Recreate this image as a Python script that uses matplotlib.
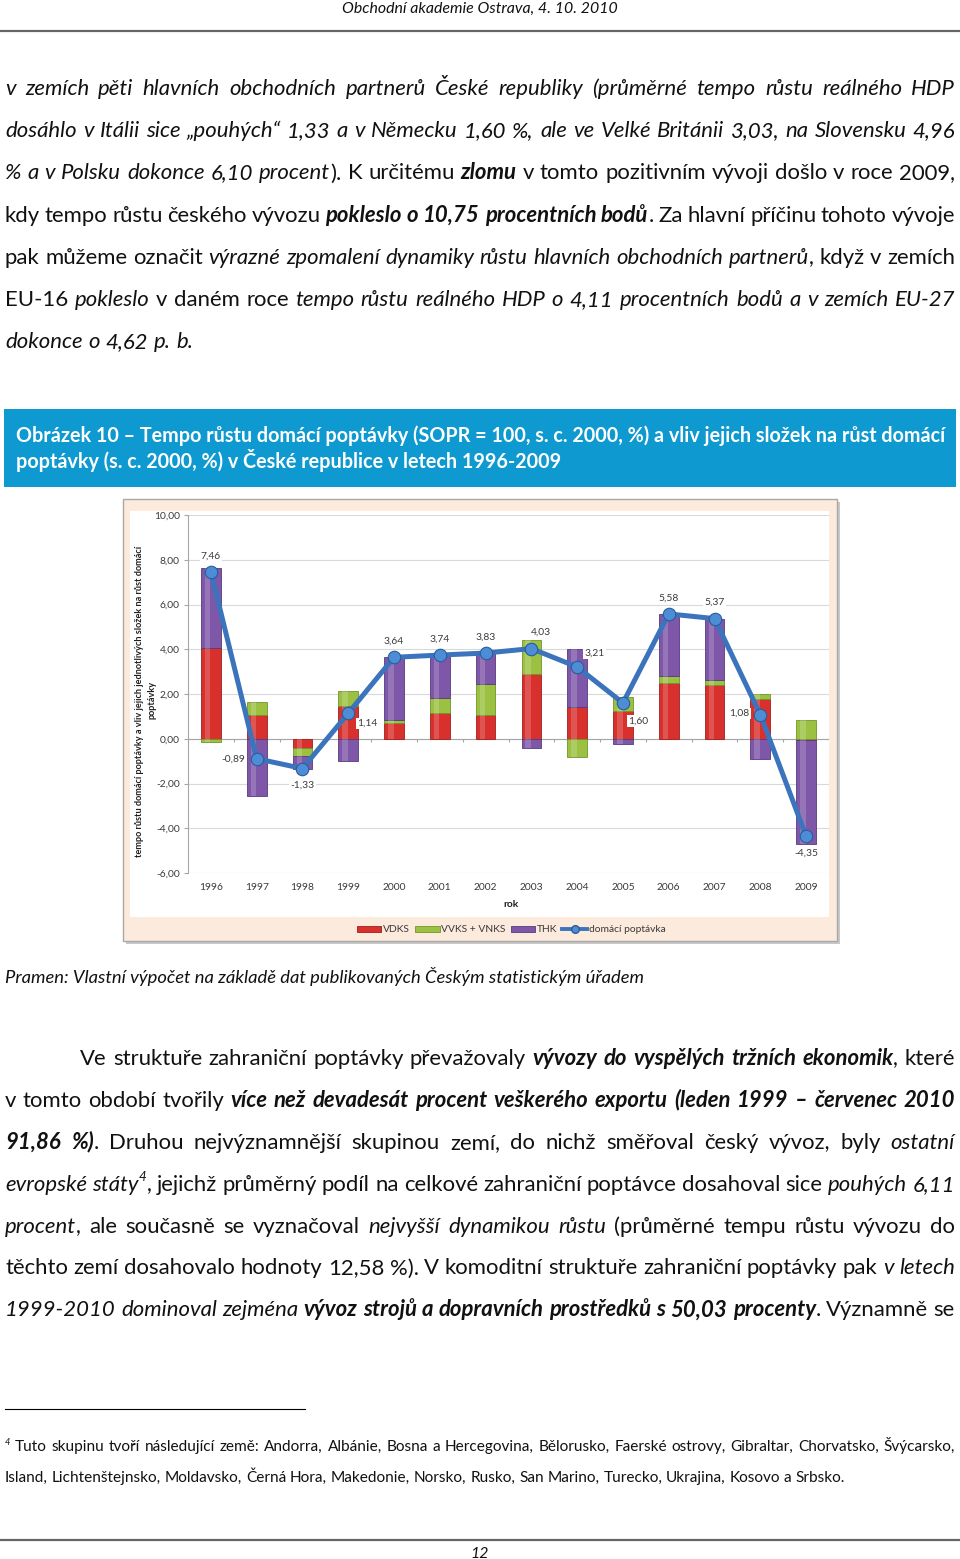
import numpy as np
import matplotlib
matplotlib.use('Agg')
import matplotlib.pyplot as plt
from matplotlib.patches import Rectangle, Patch
from matplotlib.lines import Line2D
from matplotlib.ticker import FuncFormatter, MultipleLocator

plt.rcParams['font.family'] = ['Lato', 'DejaVu Sans']

W, H = 960, 1559

# ---- chart data ----
years = ['1996', '1997', '1998', '1999', '2000', '2001', '2002',
         '2003', '2004', '2005', '2006', '2007', '2008', '2009']
vdks = [4.04, 1.06, -0.40, 1.45, 0.70, 1.14, 1.06, 2.90, 1.43, 1.25, 2.50, 2.40, 1.78, -0.06]
vvks = [-0.15, 0.60, -0.35, 0.70, 0.12, 0.70, 1.37, 1.53, -0.80, 0.60, 0.30, 0.22, 0.20, 0.84]
thk = [3.57, -2.55, -0.58, -1.01, 2.82, 1.90, 1.40, -0.40, 2.58, -0.25, 2.78, 2.75, -0.90, -4.64]
domestic = [7.46, -0.89, -1.33, 1.14, 3.64, 3.74, 3.83, 4.03, 3.21, 1.60, 5.58, 5.37, 1.08, -4.35]
series_names = ['VDKS', 'VVKS + VNKS', 'THK']
line_name = 'domácí poptávka'
y_title = ['tempo růstu domácí poptávky a vliv jejich jednotlivých složek na růst domácí',
           'poptávky']
x_title = 'rok'

# ---- page text ----
header = 'Obchodní akademie Ostrava, 4. 10. 2010'
para1 = [
    [('v zemích pěti hlavních obchodních partnerů České republiky (průměrné tempo růstu reálného HDP', 'i')],
    [('dosáhlo v Itálii sice „pouhých“ 1,33 a v Německu 1,60 %, ale ve Velké Británii 3,03, na Slovensku 4,96', 'i')],
    [('% a v Polsku dokonce 6,10 procent', 'i'), ('). K určitému ', 'n'), ('zlomu', 'bi'),
     (' v tomto pozitivním vývoji došlo v roce 2009,', 'n')],
    [('kdy tempo růstu českého vývozu ', 'n'), ('pokleslo o 10,75 procentních bodů', 'bi'),
     ('. Za hlavní příčinu tohoto vývoje', 'n')],
    [('pak můžeme označit ', 'n'), ('výrazné zpomalení dynamiky růstu hlavních obchodních partnerů', 'i'),
     (', když v zemích', 'n')],
    [('EU-16 ', 'n'), ('pokleslo', 'i'), (' v daném roce ', 'n'),
     ('tempo růstu reálného HDP o 4,11 procentních bodů a v zemích EU-27', 'i')],
    [('dokonce o 4,62 p. b.', 'i')],
]
caption = ['Obrázek 10 – Tempo růstu domácí poptávky (SOPR = 100, s. c. 2000, %) a vliv jejich složek na růst domácí',
           'poptávky (s. c. 2000, %) v České republice v letech 1996-2009']
source = 'Pramen: Vlastní výpočet na základě dat publikovaných Českým statistickým úřadem'
para2 = [
    [('Ve struktuře zahraniční poptávky převažovaly ', 'n'), ('vývozy do vyspělých tržních ekonomik', 'bi'),
     (', které', 'n')],
    [('v tomto období tvořily ', 'n'),
     ('více než devadesát procent veškerého exportu (leden 1999 – červenec 2010', 'bi')],
    [('91,86 %)', 'bi'), ('. Druhou nejvýznamnější skupinou zemí, do nichž směřoval český vývoz, byly ', 'n'),
     ('ostatní', 'i')],
    [('evropské státy', 'i'), ('4', 's'),
     (', jejichž průměrný podíl na celkové zahraniční poptávce dosahoval sice ', 'n'), ('pouhých 6,11', 'i')],
    [('procent', 'i'), (', ale současně se vyznačoval ', 'n'), ('nejvyšší dynamikou růstu', 'i'),
     (' (průměrné tempu růstu vývozu do', 'n')],
    [('těchto zemí dosahovalo hodnoty 12,58 %). V komoditní struktuře zahraniční poptávky pak ', 'n'),
     ('v letech', 'i')],
    [('1999-2010 dominoval zejména ', 'i'), ('vývoz strojů a dopravních prostředků s 50,03 procenty', 'bi'),
     ('. Významně se', 'n')],
]
footnote = [
    [('4', 's'), (' Tuto skupinu tvoří následující země: Andorra, Albánie, Bosna a Hercegovina, Bělorusko, '
                  'Faerské ostrovy, Gibraltar, Chorvatsko, Švýcarsko,', 'n')],
    [('Island, Lichtenštejnsko, Moldavsko, Černá Hora, Makedonie, Norsko, Rusko, San Marino, Turecko, '
      'Ukrajina, Kosovo a Srbsko.', 'n')],
]
page_no = '12'

fig = plt.figure(figsize=(W / 100, H / 100), dpi=100)
page = fig.add_axes([0, 0, 1, 1])
page.set_xlim(0, W)
page.set_ylim(H, 0)
page.axis('off')
renderer = fig.canvas.get_renderer()
TXT = '#111111'


def style_kw(st, size):
    kw = dict(fontsize=size)
    if 'i' in st:
        kw['style'] = 'italic'
    if 'b' in st:
        kw['weight'] = 'bold'
    if st == 's':
        kw['fontsize'] = size * 0.6
        kw['style'] = 'italic'
    return kw


def text_width(s, st, size):
    t = page.text(0, 0, s, **style_kw(st, size))
    w = t.get_window_extent(renderer).width
    t.remove()
    return w


def fit_size(s, st, target):
    return 10 * target / text_width(s, st, 10)


def draw_line(runs, x0, x1, yb, size, justify=True, color=TXT):
    words = [[]]
    for text, st in runs:
        parts = text.split(' ')
        for k, p in enumerate(parts):
            if k > 0:
                words.append([])
            if p:
                words[-1].append((p, st))
    words = [w for w in words if w]
    widths = [[text_width(p, st, size) for p, st in w] for w in words]
    total = sum(sum(ws) for ws in widths)
    if justify and len(words) > 1:
        gap = (x1 - x0 - total) / (len(words) - 1)
    else:
        gap = text_width('x x', 'n', size) - text_width('xx', 'n', size)
    x = x0
    for w, ws in zip(words, widths):
        for (p, st), pw in zip(w, ws):
            dy = -size * 0.42 * 100 / 72 if st == 's' else 0
            page.text(x, yb + dy, p, ha='left', va='baseline', color=color, **style_kw(st, size))
            x += pw
        x += gap


# header and rules
hs = fit_size(header, 'i', 276)
page.text(W / 2, 13, header, ha='center', va='baseline', style='italic', fontsize=hs, color=TXT)
page.plot([0, W], [31, 31], color='#666666', lw=1.6)
page.plot([0, W], [1540, 1540], color='#666666', lw=1.6)
page.text(W / 2, 1558, page_no, ha='center', va='baseline', style='italic', fontsize=hs, color=TXT)

# paragraphs
body = fit_size(para1[-1][0][0], 'i', 186)
for i, runs in enumerate(para1):
    draw_line(runs, 5, 955, 95 + 42.2 * i, body, justify=(i < len(para1) - 1))
for i, runs in enumerate(para2):
    draw_line(runs, 80 if i == 0 else 5, 955, 1065 + 41.9 * i, body)

# caption box
page.add_patch(Rectangle((4, 409), 952, 78, facecolor='#0E9AD0', edgecolor='none'))
cs = fit_size(caption[0], 'b', 928)
page.text(16, 442, caption[0], ha='left', va='baseline', weight='bold', fontsize=cs, color='white')
page.text(16, 468, caption[1], ha='left', va='baseline', weight='bold', fontsize=cs, color='white')

# source
ss = fit_size(source, 'i', 637)
page.text(5, 983, source, ha='left', va='baseline', style='italic', fontsize=ss, color=TXT)

# footnote
page.plot([5, 305], [1409, 1409], color='black', lw=0.8)
fs = fit_size(footnote[1][0][0], 'n', 843)
draw_line(footnote[0], 5, 955, 1451, fs)
draw_line(footnote[1], 5, 955, 1482, fs, justify=False)

# chart frame
page.add_patch(Rectangle((126, 502), 714, 442, facecolor='#C8C8C8', edgecolor='none'))
page.add_patch(Rectangle((123, 499), 714, 442, facecolor='#FCEADC', edgecolor='#A8A8A8', lw=1))
page.add_patch(Rectangle((130, 511), 699, 406, facecolor='white', edgecolor='none'))

# ---- chart ----
CS = 7.4
LBL = '#3a3a3a'
ax = fig.add_axes([188 / W, 1 - 873 / H, (829 - 188) / W, (873 - 515) / H])
ax.set_facecolor('white')
x = np.arange(len(years))
colors = ['#D8302C', '#9CC142', '#7E57A8']
edges = ['#9E1F1D', '#6E9628', '#573A80']
pos_bottom = np.zeros(len(years))
neg_bottom = np.zeros(len(years))
for vals, c, ec, name in zip([vdks, vvks, thk], colors, edges, series_names):
    v = np.array(vals)
    bottom = np.where(v >= 0, pos_bottom, neg_bottom)
    ax.bar(x, v, 0.43, bottom=bottom, color=c, edgecolor=ec, linewidth=0.6, zorder=3, label=name)
    ax.bar(x - 0.07, v, 0.12, bottom=bottom, color='white', alpha=0.18, linewidth=0, zorder=3.5)
    pos_bottom += np.where(v >= 0, v, 0)
    neg_bottom += np.where(v < 0, v, 0)

ax.plot(x, domestic, color='#3B74BC', lw=3.6, zorder=5, marker='o', markersize=9,
        markerfacecolor='#4C8DD6', markeredgecolor='#2A5C9C', markeredgewidth=0.8, label=line_name)

# data labels: (dx, dy) in pixels and alignment
offsets = [(0, 16, 'center'), (-11, -1, 'right'), (0, -17, 'center'), (9, -10, 'left'),
           (0, 16, 'center'), (0, 16, 'center'), (0, 16, 'center'), (10, 16, 'center'),
           (7, 14, 'left'), (5, -18, 'left'), (0, 16, 'center'), (0, 16, 'center'),
           (-11, 1, 'right'), (0, -17, 'center')]
for xi, v, (dx, dy, ha) in zip(x, domestic, offsets):
    ax.annotate(f'{v:.2f}'.replace('.', ','), (xi, v), xytext=(dx, dy), textcoords='offset pixels',
                ha=ha, va='center', fontsize=CS, color=LBL, zorder=6,
                bbox=dict(boxstyle='square,pad=0.12', fc='white', ec='none'))

ax.set_xlim(-0.5, len(years) - 0.5)
ax.set_ylim(-6, 10)
ax.yaxis.set_major_locator(MultipleLocator(2))
ax.yaxis.set_major_formatter(FuncFormatter(lambda v, p: f'{v:.2f}'.replace('.', ',')))
ax.grid(axis='y', color='#D9D9D9', lw=0.8, zorder=0)
ax.set_axisbelow(True)
for s in ['top', 'right', 'bottom']:
    ax.spines[s].set_visible(False)
ax.spines['left'].set_color('#A6A6A6')
ax.axhline(0, color='#A6A6A6', lw=0.8, zorder=2)
ax.vlines(x[:-1] + 0.5, -0.16, 0, color='#A6A6A6', lw=0.8, zorder=2)
ax.set_xticks(x)
ax.set_xticklabels(years)
ax.tick_params(axis='x', length=0, pad=7, labelsize=CS, labelcolor=LBL)
ax.tick_params(axis='y', length=3, pad=3, labelsize=CS, labelcolor=LBL, color='#A6A6A6')

yts = fit_size(y_title[0], 'b', 313)
page.text(140, 701, y_title[0], rotation=90, ha='center', va='center', weight='bold',
          fontsize=yts, color='#1f1f1f')
page.text(152, 700, y_title[1], rotation=90, ha='center', va='center', weight='bold',
          fontsize=yts, color='#1f1f1f')
page.text(511, 904, x_title, ha='center', va='center', weight='bold', fontsize=CS, color='#1f1f1f')

handles = [Patch(facecolor=c, edgecolor=ec, lw=0.6) for c, ec in zip(colors, edges)]
handles.append(Line2D([], [], color='#3B74BC', lw=2.8, marker='o', markersize=5.5,
                      markerfacecolor='#4C8DD6', markeredgecolor='#2A5C9C'))
fig.legend(handles, series_names + [line_name], loc='center', bbox_to_anchor=(511 / W, 1 - 930 / H),
           ncol=4, frameon=False, fontsize=CS, handlelength=2.4, handleheight=0.45,
           handletextpad=0.15, columnspacing=0.5, labelcolor=LBL)

fig.savefig('out.png', dpi=100)
